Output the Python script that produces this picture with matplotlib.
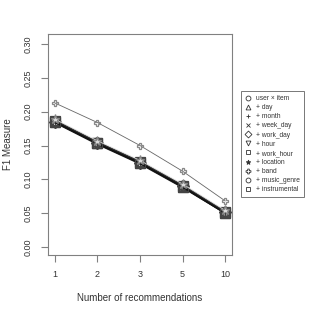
import matplotlib
matplotlib.use("Agg")
import matplotlib.pyplot as plt
import numpy as np
from matplotlib.lines import Line2D

plt.rcParams['font.family'] = ['Liberation Sans', 'DejaVu Sans']

x_labels = ["1", "2", "3", "5", "10"]
series_names = ["user \u00d7 item", "+ day", "+ month", "+ week_day", "+ work_day",
                "+ hour", "+ work_hour", "+ location", "+ band", "+ music_genre",
                "+ instrumental"]
user_item    = [0.186, 0.154, 0.125, 0.090, 0.051]
day          = [0.185, 0.153, 0.124, 0.089, 0.050]
month        = [0.187, 0.155, 0.126, 0.091, 0.052]
week_day     = [0.186, 0.154, 0.125, 0.090, 0.051]
work_day     = [0.185, 0.154, 0.124, 0.090, 0.051]
hour         = [0.184, 0.152, 0.123, 0.088, 0.050]
work_hour    = [0.186, 0.153, 0.125, 0.090, 0.051]
location     = [0.189, 0.157, 0.128, 0.093, 0.054]
band         = [0.213, 0.184, 0.150, 0.112, 0.068]
music_genre  = [0.187, 0.155, 0.126, 0.091, 0.052]
instrumental = [0.185, 0.153, 0.124, 0.089, 0.050]
all_series = [user_item, day, month, week_day, work_day, hour, work_hour,
              location, band, music_genre, instrumental]
y_ticks = [0.00, 0.05, 0.10, 0.15, 0.20, 0.25, 0.30]

markers = ['o', '^', '+', 'x', 'D', 'v', 's', '*', 'P', 'o', 's']
colors = ['#222222', '#333333', '#111111', '#222222', '#444444', '#222222',
          '#111111', '#dddddd', '#666666', '#333333', '#111111']
lws = [1.2, 1.2, 1.2, 1.2, 1.2, 1.2, 1.2, 0.6, 0.6, 1.2, 1.2]

W = 316
fig = plt.figure(figsize=(3.16, 3.16), dpi=100)
ax = fig.add_axes([48/W, 1-255/W, (232-48)/W, (255-34)/W])

xs = np.arange(1, len(x_labels)+1)
order = [0, 1, 2, 3, 4, 5, 6, 9, 10, 7, 8]
for i in order:
    s = all_series[i]
    ms = 5 if i == 8 else 6.5
    ax.plot(xs, s, color=colors[i], lw=lws[i], marker=markers[i], ms=ms,
            mfc='none' if markers[i] not in ('+', 'x', '*') else colors[i],
            mec='#444444' if i not in (7, 8) else '#888888', mew=0.9, zorder=3)

ax.set_xlim(0.84, 5.16)
ax.set_ylim(-0.012, 0.315)
ax.set_xticks(xs)
ax.set_xticklabels(x_labels)
ax.set_yticks(y_ticks)
ax.set_yticklabels(["%.2f" % v for v in y_ticks], rotation=90, va='center')
for sp in ax.spines.values():
    sp.set_color('#808080')
    sp.set_linewidth(0.8)
ax.tick_params(axis='both', direction='out', length=5, width=0.8, color='#808080',
               labelsize=6.5, labelcolor='#333333', pad=6)
ax.set_ylabel("F1 Measure", fontsize=7, color='#333333', labelpad=8)
ax.set_xlabel("Number of recommendations", fontsize=7, color='#333333', labelpad=10)

handles = [Line2D([], [], ls='none', marker=markers[i], ms=3.5, color='#333333',
                  mfc='none' if markers[i] not in ('+', 'x', '*') else '#333333',
                  mew=0.6) for i in range(len(series_names))]
leg = fig.legend(handles, series_names, loc='upper left',
                 bbox_to_anchor=(241/W, 1-91/W), fontsize=4.8, frameon=True,
                 fancybox=False, borderpad=0.6, labelspacing=0.32,
                 handlelength=1.0, handletextpad=0.6, borderaxespad=0)
leg.get_frame().set_edgecolor('#555555')
leg.get_frame().set_linewidth(0.7)
for t in leg.get_texts():
    t.set_color('#333333')

fig.savefig("out.png", dpi=100)
